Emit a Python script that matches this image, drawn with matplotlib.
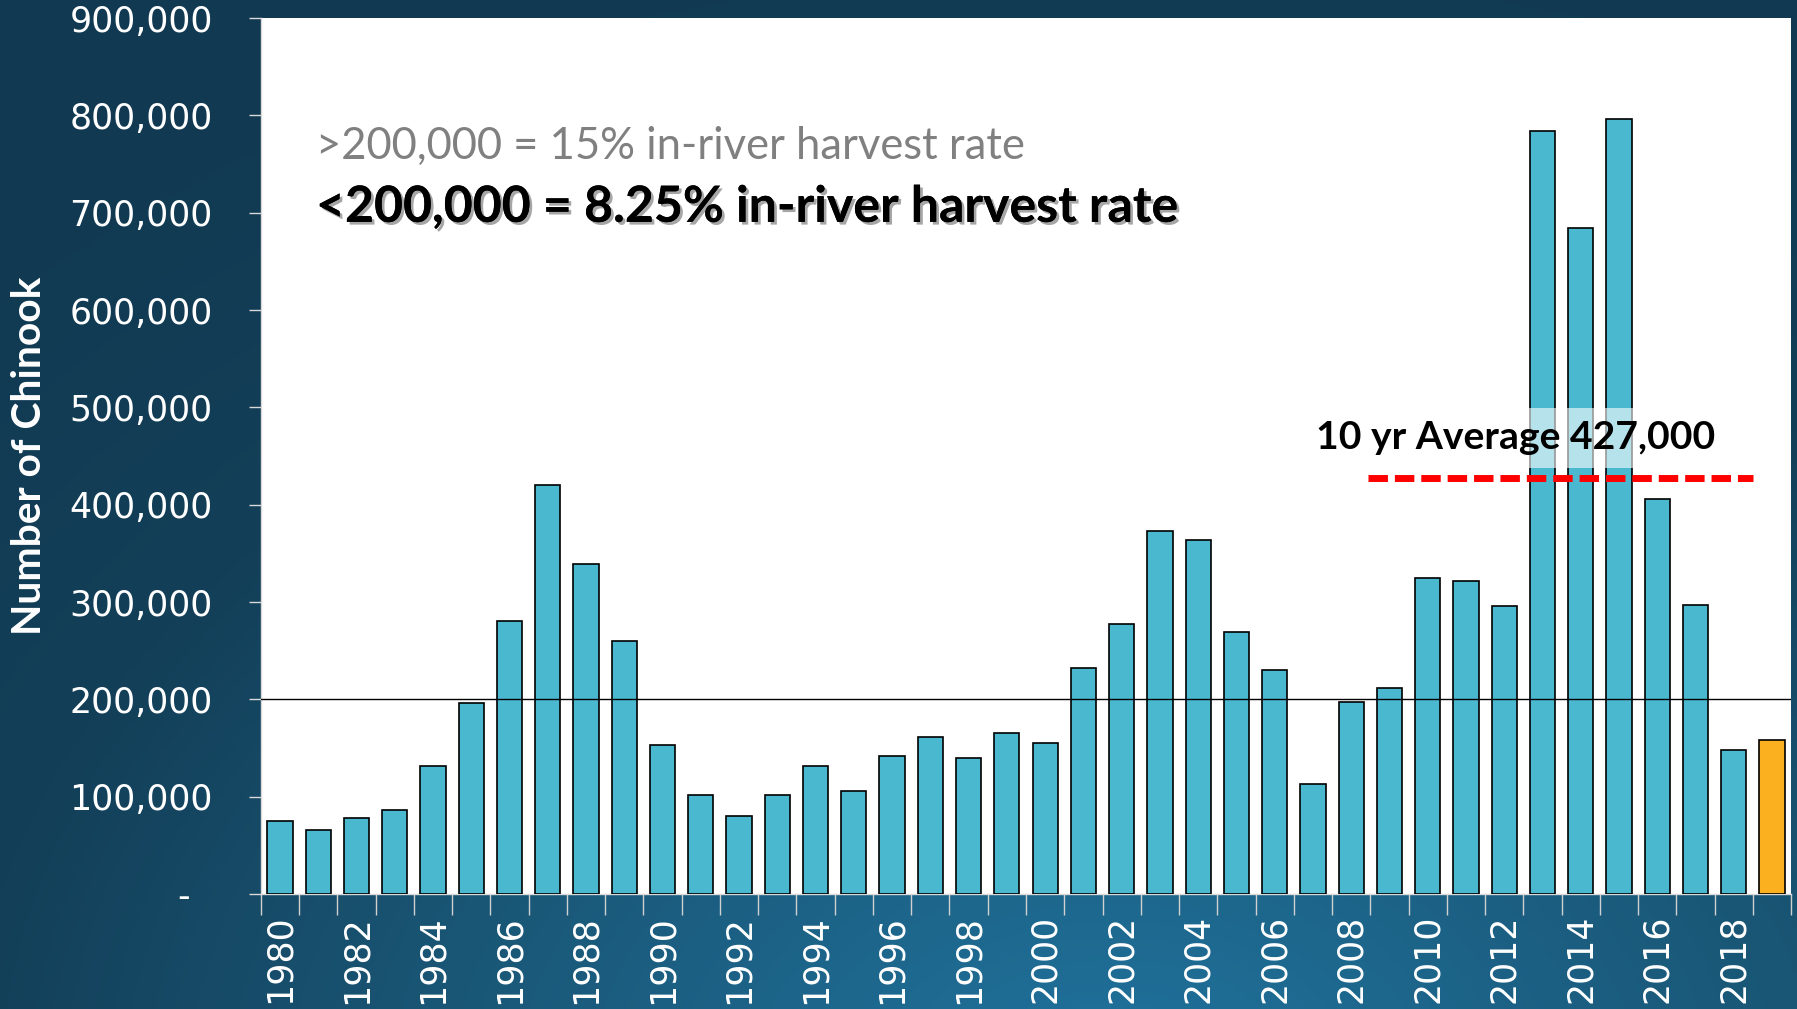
import numpy as np
import matplotlib.pyplot as plt
from matplotlib import patheffects
from matplotlib.colors import LinearSegmentedColormap

# Chinook returns by year
years = list(range(1980, 2020))
chinook = [75000, 66000, 78000, 86000, 131000, 196000, 281000, 420000, 339000, 260000,
           153000, 102000, 80000, 102000, 132000, 106000, 142000, 161000, 140000, 165000,
           155000, 232000, 277000, 373000, 364000, 269000, 230000, 113000, 197000, 212000,
           325000, 322000, 296000, 784000, 684000, 796000, 406000, 297000, 148000, 158000]
threshold = 200000
avg_10yr = 427000
avg_years = (2009, 2018)

ytick_vals = list(range(0, 900001, 100000))
ytick_labels = ['-  '] + ['{:,}'.format(v) for v in ytick_vals[1:]]

fig = plt.figure(figsize=(17.97, 10.09), dpi=100)

# dark teal slide background, lighter towards the bottom middle
bg = fig.add_axes([0, 0, 1, 1], zorder=-10)
yy, xx = np.mgrid[0:1:300j, 0:1:500j]
r = np.sqrt(((xx - 0.62) * 1.3) ** 2 + (yy - 1.1) ** 2)
cmap = LinearSegmentedColormap.from_list('slide', ['#1F6E97', '#1A5878', '#133F58', '#113A52'])
bg.imshow(r, cmap=cmap, aspect='auto', extent=[0, 1, 0, 1], origin='upper', vmin=0.1, vmax=1.2)
bg.axis('off')

ax = fig.add_axes([0.1452, 0.114, 0.8515, 0.868])
ax.set_facecolor('white')
x = np.arange(len(years))
colors = ['#4AB9D0'] * (len(years) - 1) + ['#FBB01F']
ax.bar(x, chinook, width=0.66, color=colors, edgecolor='black', linewidth=1.2, zorder=3)
ax.set_xlim(-0.5, len(years) - 0.5)
ax.set_ylim(0, 900000)

ax.axhline(threshold, color='black', lw=1.0, zorder=4)

i0 = years.index(avg_years[0])
i1 = years.index(avg_years[1])
ax.hlines(avg_10yr, i0 - 0.55, i1 + 0.5, colors='red', linestyles=(0, (2.8, 1.0)),
          lw=5, zorder=5)
ax.text((i0 + i1) / 2 - 1.2, 469000, '10 yr Average 427,000', ha='center', va='center',
        fontsize=28.2, fontweight='bold', family='Lato', color='black', zorder=6,
        bbox=dict(facecolor='white', alpha=0.6, edgecolor='none', pad=9))

ax.text(0.036, 0.853, '>200,000 = 15% in-river harvest rate', transform=ax.transAxes,
        ha='left', va='center', fontsize=31.4, family='Lato', color='#808080')
ax.text(0.036, 0.784, '<200,000 = 8.25% in-river harvest rate', transform=ax.transAxes,
        ha='left', va='center', fontsize=36, family='Lato', fontweight='bold', color='black',
        path_effects=[patheffects.withSimplePatchShadow(offset=(2, -2), alpha=0.35),
                      patheffects.Normal()])

# axes styling
ax.set_yticks(ytick_vals)
ax.set_yticklabels(ytick_labels)
ax.tick_params(axis='y', length=8.6, width=1, color='#D9D9D9', pad=26,
               labelsize=25, labelcolor='white')

ax.set_xticks(x[::2])
ax.set_xticklabels([str(y) for y in years[::2]], rotation=90, va='top')
ax.set_xticks(np.arange(-0.5, len(years), 1), minor=True)
ax.tick_params(axis='x', which='major', length=0, pad=15, labelsize=25, labelcolor='white')
ax.tick_params(axis='x', which='minor', length=15, width=1, color='#D0D0D0')

for side in ['top', 'right']:
    ax.spines[side].set_visible(False)
for side in ['left', 'bottom']:
    ax.spines[side].set_color('#D9D9D9')
    ax.spines[side].set_linewidth(1)

fig.text(0.0165, 0.5485, 'Number of Chinook', rotation=90, ha='center', va='center',
         fontsize=29.3, fontweight='bold', family='Lato', color='white')

fig.savefig('out.png', dpi=100)
